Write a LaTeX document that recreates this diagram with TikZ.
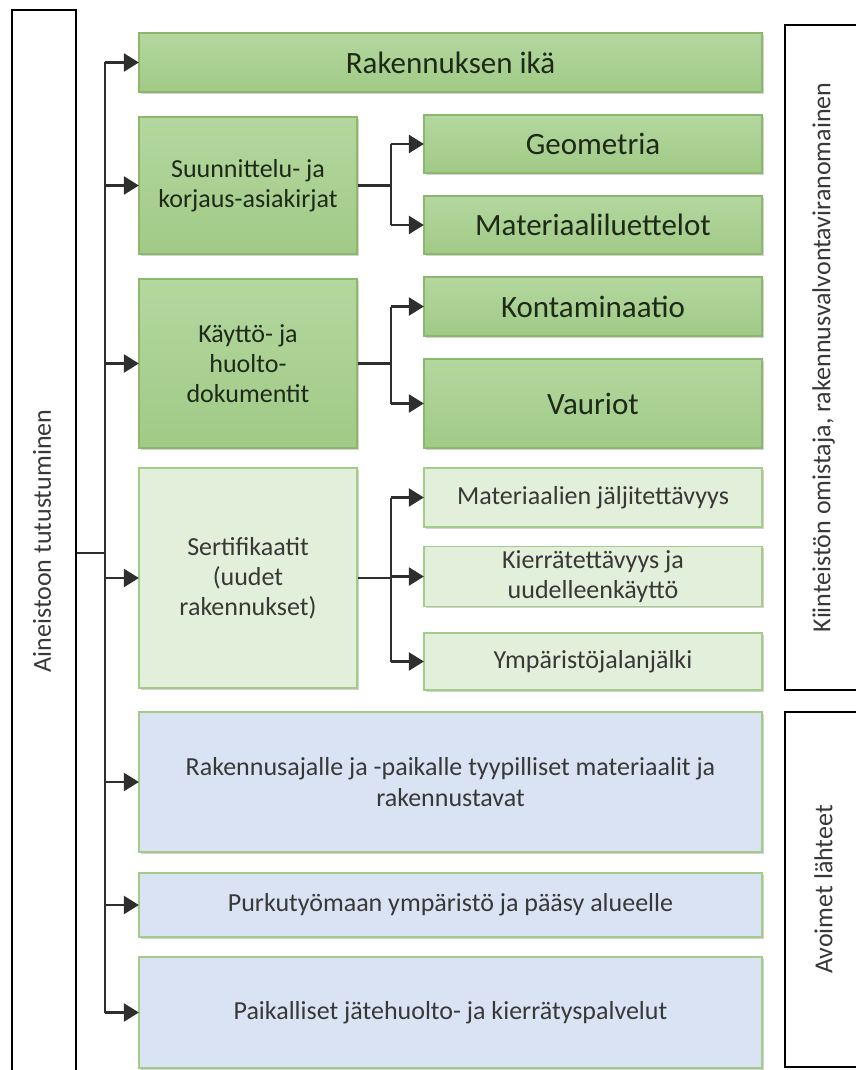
\documentclass[tikz,border=0pt]{standalone}
\usepackage{fontspec}
\setmainfont{Carlito}
\usetikzlibrary{arrows.meta,shadows}
\definecolor{gtop}{HTML}{B4D79F}
\definecolor{gbot}{HTML}{A0CA86}
\definecolor{gborder}{HTML}{8CB86E}
\definecolor{lgfill}{HTML}{E2EFDA}
\definecolor{lgborder}{HTML}{A3CC88}
\definecolor{bfill}{HTML}{DAE3F3}
\definecolor{txtdark}{HTML}{1E2A18}
\definecolor{txtgray}{HTML}{383838}
\definecolor{linec}{HTML}{2E2E2E}
\tikzset{
  boxbase/.style={rectangle, inner sep=4pt, align=center, line width=1.3pt,
    drop shadow={shadow xshift=1.8pt, shadow yshift=-1.8pt, opacity=0.35, fill=gray}},
  gbox/.style={boxbase, draw=gborder, top color=gtop, bottom color=gbot, text=txtdark, font=\fontsize{31}{36}\selectfont},
  gboxs/.style={boxbase, draw=gborder, top color=gtop, bottom color=gbot, text=txtdark, font=\fontsize{26}{30}\selectfont},
  lgbox/.style={boxbase, draw=lgborder, fill=lgfill, text=txtgray, font=\fontsize{26}{30}\selectfont},
  bbox/.style={boxbase, draw=lgborder, fill=bfill, text=txtgray, font=\fontsize{26}{31}\selectfont},
  sidebox/.style={rectangle, draw=black, line width=1.4pt, fill=white, inner sep=0pt},
  sidetext/.style={rotate=90, text=txtgray, font=\fontsize{26}{30}\selectfont},
  conn/.style={draw=linec, line width=2.4pt},
  arr/.style={conn, -{Triangle[length=15pt,width=18pt]}, shorten >=-0.5pt}
}
\begin{document}
\begin{tikzpicture}[x=1pt,y=-1pt]
\useasboundingbox (0,0) rectangle (856,1070);
\clip (0,0) rectangle (856,1070);
\fill[white] (0,0) rectangle (856,1070);

% side boxes
\node[sidebox, minimum width=64pt, minimum height=1080pt] (left) at (44,550) {};
\node[sidetext] (lefttxt) at (42,541) {Aineistoon tutustuminen};
\node[sidebox, minimum width=77pt, minimum height=665pt] (rt) at (823.5,357.5) {};
\node[sidetext] (rttxt) at (rt.center) {Kiinteistön omistaja, rakennusvalvontaviranomainen};
\node[sidebox, minimum width=77pt, minimum height=355pt] (rb) at (823.5,889.5) {};
\node[sidetext] (rbtxt) at (rb.center) {Avoimet lähteet};

% first column / wide boxes
\node[gbox, minimum width=623pt, minimum height=59pt] (top) at (450.5,62.5) {Rakennuksen ikä};
\node[gboxs, minimum width=218pt, minimum height=137pt] (sun) at (248,185.5) {Suunnittelu- ja\\korjaus-asiakirjat};
\node[gboxs, minimum width=218pt, minimum height=169pt] (kay) at (248,363.5) {Käyttö- ja\\huolto-\\dokumentit};
\node[lgbox, minimum width=218pt, minimum height=220pt] (ser) at (248,578) {Sertifikaatit\\(uudet\\rakennukset)};

% second column
\node[gbox, minimum width=338pt, minimum height=58pt] (geo) at (593,144) {Geometria};
\node[gbox, minimum width=338pt, minimum height=58pt] (mat) at (593,225) {Materiaaliluettelot};
\node[gbox, minimum width=338pt, minimum height=59pt] (kon) at (593,306.5) {Kontaminaatio};
\node[gbox, minimum width=338pt, minimum height=89pt] (vau) at (593,403.5) {Vauriot};
\node[lgbox, minimum width=338pt, minimum height=59pt] (mj) at (593,497.5) {Materiaalien jäljitettävyys};
\node[lgbox, minimum width=338pt, minimum height=59pt] (kie) at (593,576.5) {Kierrätettävyys ja\\uudelleenkäyttö};
\node[lgbox, minimum width=338pt, minimum height=57pt] (ymp) at (593,661.5) {Ympäristöjalanjälki};

% blue boxes
\node[bbox, minimum width=623pt, minimum height=140pt] (rak) at (450.5,782) {Rakennusajalle ja -paikalle tyypilliset materiaalit ja\\rakennustavat};
\node[bbox, minimum width=623pt, minimum height=64pt] (pur) at (450.5,905) {Purkutyömaan ympäristö ja pääsy alueelle};
\node[bbox, minimum width=623pt, minimum height=111pt] (pai) at (450.5,1012.5) {Paikalliset jätehuolto- ja kierrätyspalvelut};

% junction coordinates
\coordinate (jn) at (105,553);
\coordinate (j2) at (391,0);

% main trunk
\draw[conn] (left.east |- jn) -- (jn);
\draw[conn] (top.west -| jn) -- (pai.west -| jn);
\foreach \n in {top,sun,kay,ser,rak,pur,pai}{
  \draw[arr] (\n.west -| jn) -- (\n.west);
}

% sub branches
\draw[conn] (sun.east) -- (sun.east -| j2);
\draw[conn] (geo.west -| j2) -- (mat.west -| j2);
\draw[arr] (geo.west -| j2) -- (geo.west);
\draw[arr] (mat.west -| j2) -- (mat.west);

\draw[conn] (kay.east) -- (kay.east -| j2);
\draw[conn] (kon.west -| j2) -- (vau.west -| j2);
\draw[arr] (kon.west -| j2) -- (kon.west);
\draw[arr] (vau.west -| j2) -- (vau.west);

\draw[conn] (ser.east) -- (ser.east -| j2);
\draw[conn] (mj.west -| j2) -- (ymp.west -| j2);
\draw[arr] (mj.west -| j2) -- (mj.west);
\draw[arr] (kie.west -| j2) -- (kie.west);
\draw[arr] (ymp.west -| j2) -- (ymp.west);
\end{tikzpicture}
\end{document}
